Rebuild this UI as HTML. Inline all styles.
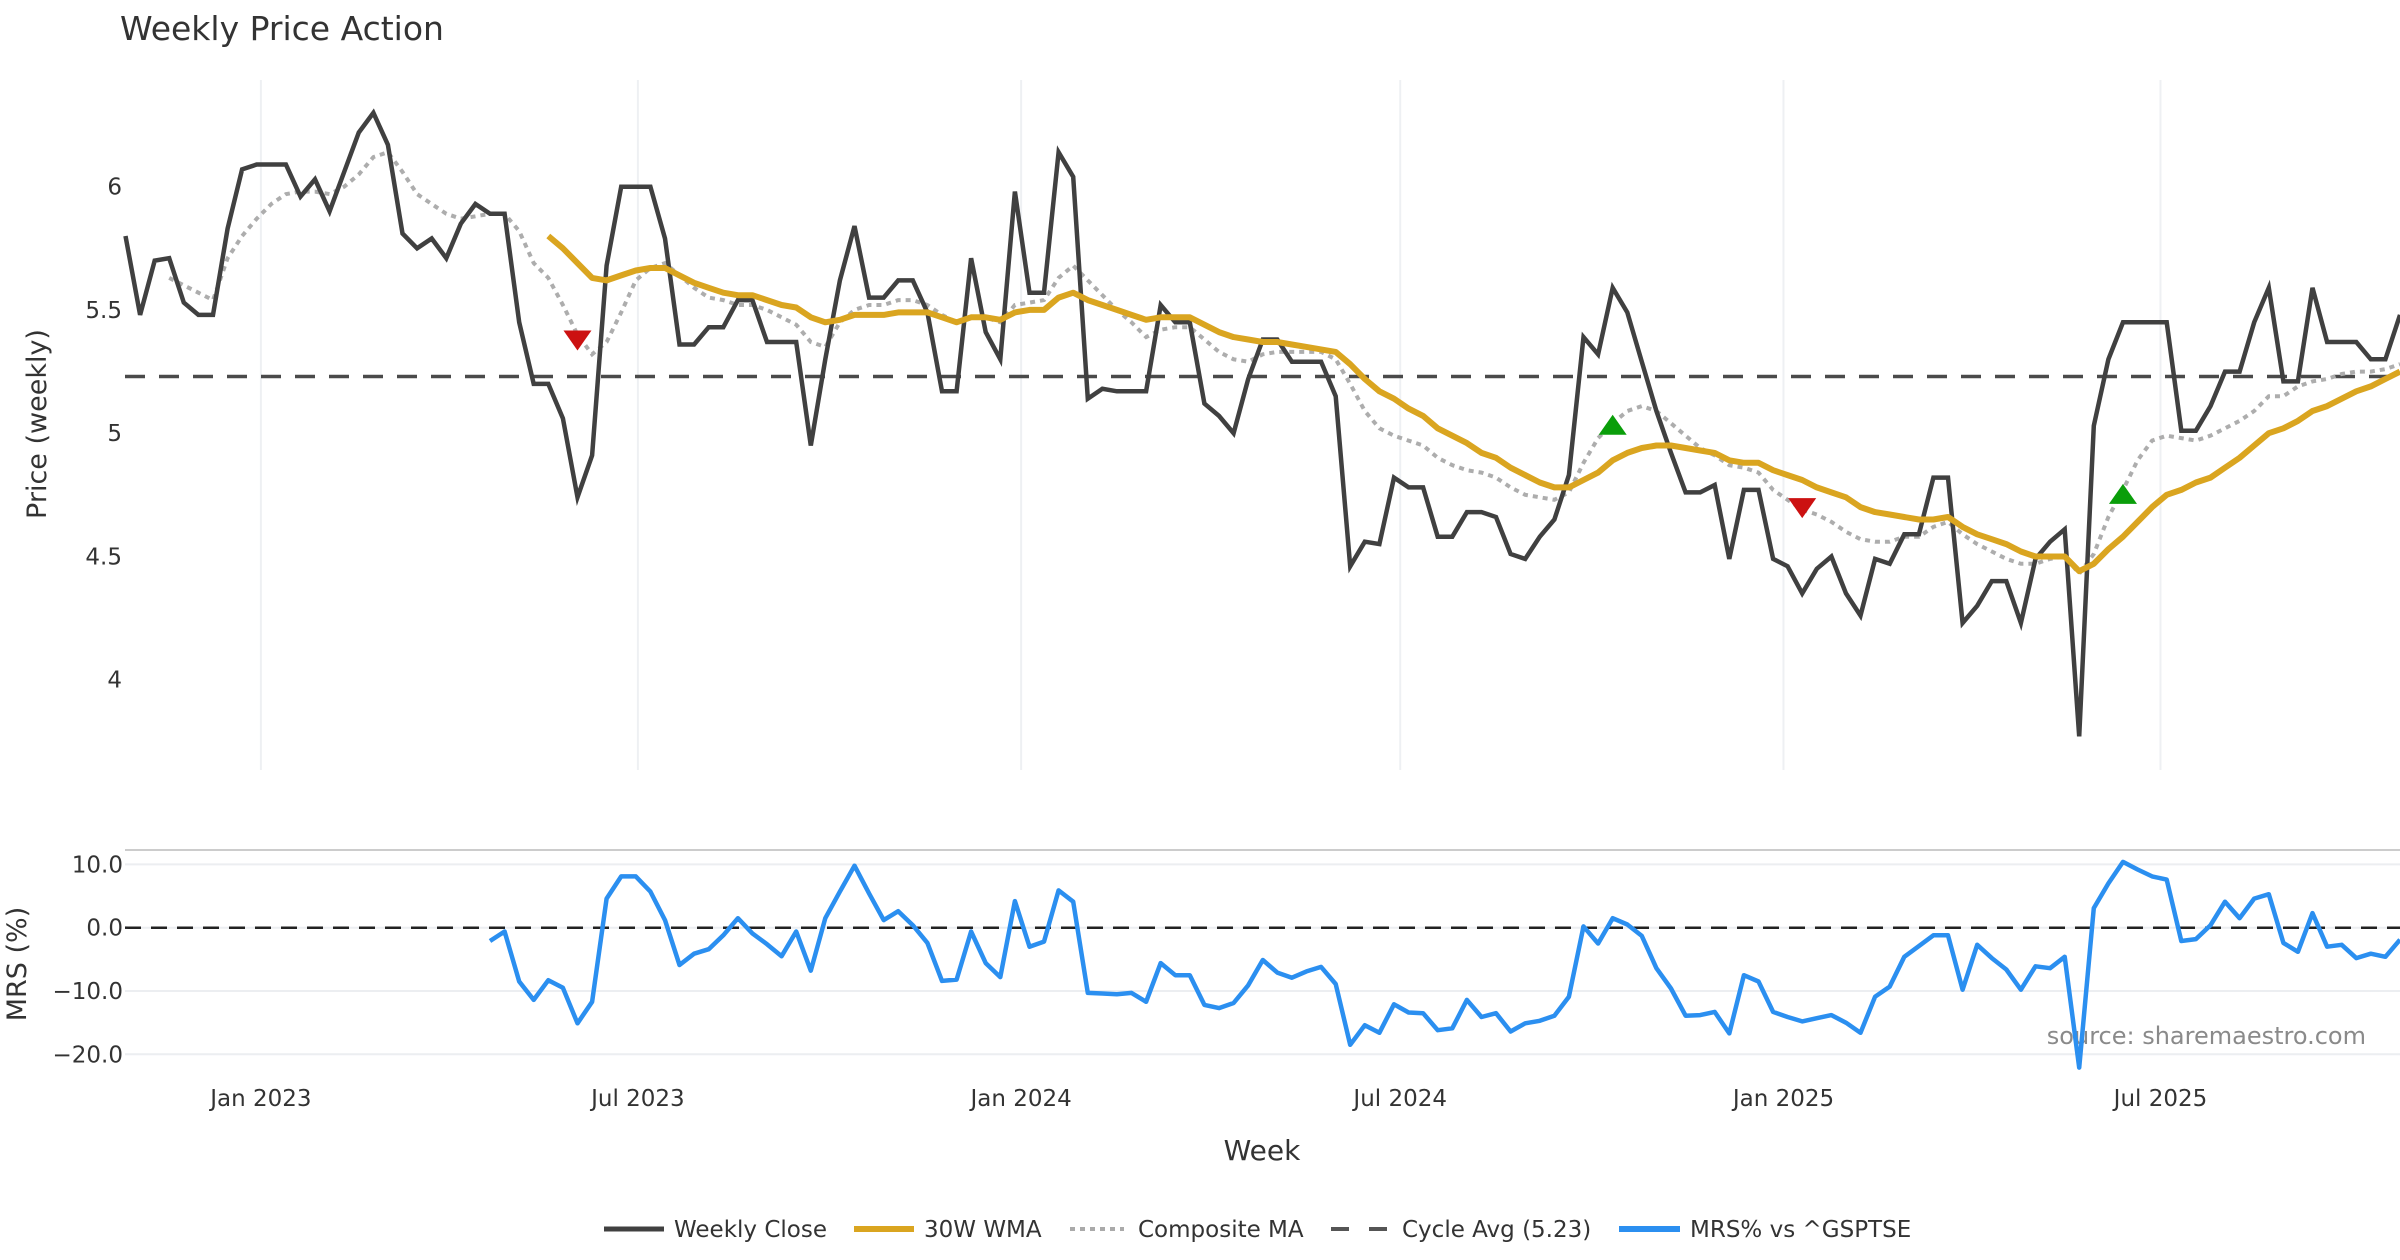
<!DOCTYPE html>
<html><head><meta charset="utf-8"><style>
html,body{margin:0;padding:0;background:#fff;}
svg{display:block;font-family:"DejaVu Sans","Liberation Sans",sans-serif;}
</style></head><body>
<svg id="chart" width="2400" height="1260" viewBox="0 0 2400 1260" xmlns="http://www.w3.org/2000/svg">
<rect width="2400" height="1260" fill="#fff"/>
<text x="120" y="40" font-size="33" fill="#333">Weekly Price Action</text>
<text transform="translate(46,424) rotate(-90)" text-anchor="middle" font-size="27" fill="#333">Price (weekly)</text>
<text transform="translate(26,964) rotate(-90)" text-anchor="middle" font-size="27" fill="#333">MRS (%)</text>
<text x="1262" y="1160" text-anchor="middle" font-size="28" fill="#333">Week</text>
<text x="2366" y="1044" text-anchor="end" font-size="24" fill="#8a8a8a">source: sharemaestro.com</text>
<g id="grid"></g><g id="series"></g><g id="axes"></g>
<g id="legend" font-size="23" fill="#333">
<line x1="604" y1="1229" x2="664" y2="1229" stroke="#404040" stroke-width="5"/>
<text x="674" y="1237">Weekly Close</text>
<line x1="854" y1="1229" x2="914" y2="1229" stroke="#DAA520" stroke-width="6"/>
<text x="924" y="1237">30W WMA</text>
<line x1="1070" y1="1229" x2="1124" y2="1229" stroke="#aaa" stroke-width="4" stroke-dasharray="5,5"/>
<text x="1138" y="1237">Composite MA</text>
<line x1="1331" y1="1229" x2="1390" y2="1229" stroke="#555" stroke-width="4" stroke-dasharray="18,20"/>
<text x="1402" y="1237">Cycle Avg (5.23)</text>
<line x1="1619" y1="1229" x2="1680" y2="1229" stroke="#2b8ff0" stroke-width="6"/>
<text x="1690" y="1237">MRS% vs ^GSPTSE</text>
</g>
</svg>
<script>
const closeVals=[5.80,5.48,5.70,5.71,5.53,5.48,5.48,5.83,6.07,6.09,6.09,6.09,5.96,6.03,5.90,6.06,6.22,6.30,6.17,5.81,5.75,5.79,5.71,5.85,5.93,5.89,5.89,5.45,5.20,5.20,5.06,4.74,4.91,5.68,6.00,6.00,6.00,5.79,5.36,5.36,5.43,5.43,5.54,5.54,5.37,5.37,5.37,4.95,5.30,5.62,5.84,5.55,5.55,5.62,5.62,5.49,5.17,5.17,5.71,5.41,5.30,5.98,5.57,5.57,6.14,6.04,5.14,5.18,5.17,5.17,5.17,5.52,5.45,5.45,5.12,5.07,5.00,5.22,5.38,5.38,5.29,5.29,5.29,5.15,4.46,4.56,4.55,4.82,4.78,4.78,4.58,4.58,4.68,4.68,4.66,4.51,4.49,4.58,4.65,4.83,5.39,5.32,5.59,5.49,5.29,5.09,4.92,4.76,4.76,4.79,4.49,4.77,4.77,4.49,4.46,4.35,4.45,4.50,4.35,4.26,4.49,4.47,4.59,4.59,4.82,4.82,4.23,4.30,4.40,4.40,4.23,4.49,4.56,4.61,3.77,5.03,5.30,5.45,5.45,5.45,5.45,5.01,5.01,5.11,5.25,5.25,5.45,5.59,5.21,5.21,5.59,5.37,5.37,5.37,5.30,5.30,5.48];
const wmaStart=29;
const wmaVals=[5.80,5.75,5.69,5.63,5.62,5.64,5.66,5.67,5.67,5.64,5.61,5.59,5.57,5.56,5.56,5.54,5.52,5.51,5.47,5.45,5.46,5.48,5.48,5.48,5.49,5.49,5.49,5.47,5.45,5.47,5.47,5.46,5.49,5.50,5.50,5.55,5.57,5.54,5.52,5.50,5.48,5.46,5.47,5.47,5.47,5.44,5.41,5.39,5.38,5.37,5.37,5.36,5.35,5.34,5.33,5.28,5.22,5.17,5.14,5.10,5.07,5.02,4.99,4.96,4.92,4.90,4.86,4.83,4.80,4.78,4.78,4.81,4.84,4.89,4.92,4.94,4.95,4.95,4.94,4.93,4.92,4.89,4.88,4.88,4.85,4.83,4.81,4.78,4.76,4.74,4.70,4.68,4.67,4.66,4.65,4.65,4.66,4.62,4.59,4.57,4.55,4.52,4.50,4.50,4.50,4.44,4.47,4.53,4.58,4.64,4.70,4.75,4.77,4.80,4.82,4.86,4.90,4.95,5.00,5.02,5.05,5.09,5.11,5.14,5.17,5.19,5.22,5.25];
const compStart=3;
const compVals=[5.63,5.60,5.57,5.54,5.71,5.80,5.87,5.93,5.97,5.98,5.98,5.97,6.00,6.05,6.12,6.14,6.06,5.97,5.93,5.89,5.87,5.88,5.89,5.89,5.82,5.69,5.63,5.52,5.40,5.32,5.37,5.49,5.62,5.67,5.69,5.64,5.59,5.55,5.54,5.52,5.52,5.50,5.47,5.44,5.37,5.35,5.45,5.50,5.52,5.52,5.54,5.54,5.52,5.48,5.45,5.47,5.47,5.45,5.52,5.53,5.54,5.63,5.68,5.62,5.56,5.50,5.45,5.39,5.42,5.43,5.43,5.38,5.33,5.30,5.29,5.32,5.33,5.33,5.33,5.33,5.30,5.20,5.09,5.02,4.99,4.97,4.95,4.90,4.87,4.85,4.84,4.82,4.78,4.75,4.74,4.73,4.76,4.88,4.98,5.04,5.09,5.11,5.09,5.04,4.99,4.94,4.91,4.87,4.86,4.84,4.77,4.73,4.69,4.67,4.64,4.60,4.57,4.56,4.56,4.58,4.58,4.62,4.64,4.59,4.55,4.52,4.49,4.47,4.47,4.49,4.50,4.43,4.51,4.66,4.77,4.89,4.97,4.99,4.98,4.97,4.99,5.02,5.05,5.09,5.15,5.15,5.19,5.21,5.22,5.24,5.25,5.25,5.26,5.28];
const mrsStart=25;
const mrsVals=[-2.1,-0.6,-8.5,-11.4,-8.3,-9.5,-15.1,-11.7,4.6,8.1,8.1,5.7,1.2,-5.9,-4.1,-3.4,-1.2,1.5,-0.9,-2.6,-4.5,-0.6,-6.8,1.5,5.7,9.8,5.4,1.2,2.6,0.4,-2.4,-8.4,-8.2,-0.6,-5.6,-7.8,4.2,-3.0,-2.2,5.9,4.1,-10.3,-10.4,-10.5,-10.3,-11.7,-5.6,-7.5,-7.5,-12.2,-12.7,-11.9,-9.1,-5.1,-7.1,-7.9,-6.9,-6.2,-8.9,-18.5,-15.4,-16.6,-12.1,-13.4,-13.5,-16.2,-15.9,-11.4,-14.1,-13.5,-16.4,-15.1,-14.7,-13.9,-10.9,0.2,-2.5,1.5,0.5,-1.3,-6.4,-9.6,-13.9,-13.8,-13.3,-16.7,-7.5,-8.5,-13.3,-14.1,-14.8,-14.3,-13.8,-15.0,-16.6,-10.9,-9.3,-4.6,-2.9,-1.2,-1.2,-9.8,-2.7,-4.8,-6.6,-9.8,-6.1,-6.4,-4.6,-22.1,3.1,7.0,10.4,9.2,8.1,7.6,-2.1,-1.8,0.4,4.1,1.5,4.6,5.3,-2.4,-3.8,2.3,-3.0,-2.7,-4.8,-4.1,-4.6,-1.9];
const cycleAvg=5.23;
const buyWeeks=[102,137];
const buyPrices=[5.03,4.75];
const sellWeeks=[31,115];
const sellPrices=[5.38,4.70];
const priceTicks=[4,4.5,5,5.5,6];
const priceTickLabels=["4","4.5","5","5.5","6"];
const mrsTicks=[10,0,-10,-20];
const mrsTickLabels=["10.0","0.0","\u221210.0","\u221220.0"];
const dateTickLabels=["Jan 2023","Jul 2023","Jan 2024","Jul 2024","Jan 2025","Jul 2025"];
const dateTickDates=["2023-01-01","2023-07-01","2024-01-01","2024-07-01","2025-01-01","2025-07-01"];
const startDate="2022-10-28";

const NS="http://www.w3.org/2000/svg";
const X0=125.5,XW=(2400-125.5)/156;
function xs(w){return X0+w*XW;}
function yp(p){return 186.7+(6-p)*246.5;}
function ym(m){return 927.7-m*6.33;}
function weekOf(d){return (Date.parse(d)-Date.parse(startDate))/(7*86400000);}
function mk(tag,attrs,parent){const e=document.createElementNS(NS,tag);for(const k in attrs)e.setAttribute(k,attrs[k]);parent.appendChild(e);return e;}
const grid=document.getElementById('grid'),ser=document.getElementById('series'),ax=document.getElementById('axes');

dateTickDates.forEach((d,i)=>{
  const x=xs(weekOf(d));
  const g=mk('line',{x1:x,x2:x,y1:80,y2:770,stroke:'#eef0f3','stroke-width':2},grid);
  
  
  const t=mk('text',{x:x,y:1106,'text-anchor':'middle','font-size':23,fill:'#333'},ax);
  t.textContent=dateTickLabels[i];
  
  
});
priceTicks.forEach((p,i)=>{
  const t=mk('text',{x:122,y:yp(p)+8,'text-anchor':'end','font-size':23,fill:'#333'},ax);
  t.textContent=priceTickLabels[i];
  
  
});
const sep=mk('line',{x1:125,x2:2400,y1:850,y2:850,stroke:'#cccccc','stroke-width':2},grid);


mrsTicks.forEach((m,i)=>{
  const g=mk('line',{x1:125,x2:2400,y1:ym(m),y2:ym(m),stroke:'#eceef1','stroke-width':2},grid);
  
  
  const t=mk('text',{x:123,y:ym(m)+8,'text-anchor':'end','font-size':23,fill:'#333'},ax);
  t.textContent=mrsTickLabels[i];
  
  
});
function pts(start,vals,yf){return vals.map((v,i)=>xs(start+i).toFixed(1)+','+yf(v).toFixed(1)).join(' ');}

const cyc=mk('line',{x1:125,x2:2400,y1:yp(cycleAvg),y2:yp(cycleAvg),stroke:'#4a4a4a','stroke-width':3.5,'stroke-dasharray':'20,14'},ser);


const comp=mk('polyline',{points:pts(compStart,compVals,yp),fill:'none',stroke:'#adadad','stroke-width':4,'stroke-dasharray':'5,5'},ser);


const cl=mk('polyline',{points:pts(0,closeVals,yp),fill:'none',stroke:'#404040','stroke-width':4.5,'stroke-linejoin':'miter'},ser);


const wma=mk('polyline',{points:pts(wmaStart,wmaVals,yp),fill:'none',stroke:'#DAA520','stroke-width':6,'stroke-linejoin':'round'},ser);


buyWeeks.forEach((w,i)=>{
  const x=xs(w),y=yp(buyPrices[i]);
  const t=mk('polygon',{points:`${x-14},${y+9} ${x+14},${y+9} ${x},${y-11}`,fill:'#0a9e0a'},ser);
  
  
});
sellWeeks.forEach((w,i)=>{
  const x=xs(w),y=yp(sellPrices[i]);
  const t=mk('polygon',{points:`${x-14},${y-9} ${x+14},${y-9} ${x},${y+11}`,fill:'#cc1111'},ser);
  
  
});
const zero=mk('line',{x1:125,x2:2400,y1:ym(0),y2:ym(0),stroke:'#222','stroke-width':2.5,'stroke-dasharray':'16,10'},ser);


const mrs=mk('polyline',{points:pts(mrsStart,mrsVals,ym),fill:'none',stroke:'#2b8ff0','stroke-width':4.5,'stroke-linejoin':'round'},ser);


</script>
</body></html>
